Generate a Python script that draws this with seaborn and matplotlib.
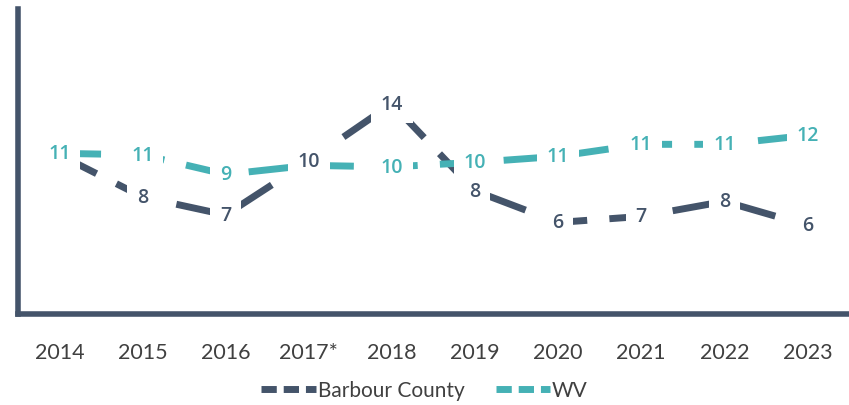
import matplotlib
matplotlib.use("Agg")
import matplotlib.pyplot as plt
import seaborn as sns
import pandas as pd
from matplotlib.lines import Line2D

years = ["2014", "2015", "2016", "2017*", "2018", "2019", "2020", "2021", "2022", "2023"]
barbour = [10.6, 7.8, 6.6, 10.2, 14.0, 8.2, 6.1, 6.5, 7.5, 5.9]
wv = [10.7, 10.6, 9.3, 9.9, 9.8, 10.1, 10.5, 11.3, 11.3, 11.9]
barbour_labels = ["11", "8", "7", "10", "14", "8", "6", "7", "8", "6"]
wv_labels = ["11", "11", "9", "10", "10", "10", "11", "11", "11", "12"]
series_names = ["Barbour County", "WV"]

c_bc = "#44546A"
c_wv = "#45B1B5"

sns.set_theme(style="white")
plt.rcParams['font.family'] = ['Lato', 'DejaVu Sans']

df = pd.DataFrame({
    "year": years * 2,
    "value": barbour + wv,
    "series": [series_names[0]] * len(years) + [series_names[1]] * len(years),
})

fig = plt.figure(figsize=(8.49, 4.06), dpi=100)
ax = fig.add_axes([0.021, 0.224, 0.979, 0.751])

sns.lineplot(data=df, x="year", y="value", hue="series", palette=[c_bc, c_wv],
             sort=False, ax=ax, linewidth=5, legend=False)
for line in ax.lines:
    line.set_dashes((6, 3.2))
    line.set_dash_capstyle("butt")
    line.set_solid_capstyle("butt")

ax.set_xlim(-0.5, len(years) - 0.5)
ax.set_ylim(0, 20.3)
ax.set_yticks([])
ax.set_xlabel("")
ax.set_ylabel("")

def label(vals, labs, color, skip=()):
    for i, (v, t) in enumerate(zip(vals, labs)):
        if i in skip:
            continue
        ax.text(i, v, t, ha="center", va="center", color=color, fontsize=14,
                fontweight="semibold", family=["Open Sans", "DejaVu Sans"],
                bbox=dict(boxstyle="square,pad=0.5", fc="white", ec="none"), zorder=5)

label(wv, wv_labels, c_wv, skip=(3,))
label(barbour, barbour_labels, c_bc, skip=(0,))

ax.tick_params(axis="x", labelsize=15.5, colors="#404040", length=0, pad=20)
for s in ["top", "right"]:
    ax.spines[s].set_visible(False)
for s in ["left", "bottom"]:
    ax.spines[s].set_color(c_bc)
    ax.spines[s].set_linewidth(4)

handles = [Line2D([0], [0], color=c_bc, lw=5, dashes=(2.2, 1), dash_capstyle="butt"),
           Line2D([0], [0], color=c_wv, lw=5, dashes=(2.2, 1), dash_capstyle="butt")]
fig.legend(handles, series_names, loc="lower center", bbox_to_anchor=(0.5, -0.035), ncol=2,
           frameon=False, fontsize=15, handlelength=2.6, handletextpad=0.1, columnspacing=1.5,
           labelcolor="#404040")

fig.savefig("out.png", dpi=100, facecolor="white")
